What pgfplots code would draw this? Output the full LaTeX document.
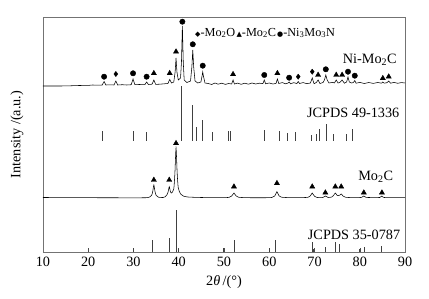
\documentclass[border=0pt]{standalone}
\usepackage{pgfplots}
\pgfplotsset{compat=1.18}
\usepackage{fontspec}
\setmainfont{Liberation Serif}
\newfontfamily\sym{DejaVu Sans}
\begin{document}
\begin{tikzpicture}
\begin{axis}[
  scale only axis, width=362bp, height=235bp,
  xmin=10, xmax=90, ymin=0, ymax=235,
  xtick={10,20,...,90}, ytick=\empty,
  xtick pos=bottom, tick align=inside, major tick length=4bp,
  axis line style={black!55, line width=0.6bp},
  tick style={black!70, line width=0.5bp},
  /pgf/number format/assume math mode=true,
  font=\fontsize{14.3}{17}\selectfont,
  xticklabel style={yshift=-1.5bp},
  xlabel={2\textit{θ}\,/(°)},
  xlabel style={at={(rel axis cs:0.5,0)}, anchor=center, yshift=-30bp},
  clip=false,
  unbounded coords=jump,
]
% Ni-Mo2C pattern
\addplot[black, line width=0.55bp, mark=none] coordinates {
(10,166) (12,166) (14,166) (16,166.2) (18,166.5) (20,166.6) (21,167) (22,166.8)
(23.1,167) (23.5,170.5) (23.9,167) (24.8,167.2) (25.7,167) (26.1,171) (26.5,167)
(27.5,167.3) (28.5,167) (29.5,167.3) (29.9,173) (30.3,167.3) (31.3,167.5) (32.5,167.3)
(32.9,170) (33.3,167.5) (34.1,167.8) (34.5,172) (34.9,167.6) (35.8,167.8) (36.8,168.2)
(37.6,168.5) (38.0,172.5) (38.4,169) (38.9,170) (39.2,180) (39.4,194) (39.6,180)
(39.9,172) (40.4,174) (40.6,190) (40.8,226) (41.0,190) (41.2,172) (41.8,169.5)
(42.6,171) (42.9,185) (43.1,202) (43.3,185) (43.6,171) (44.2,169) (44.9,170)
(45.15,176) (45.3,180) (45.45,176) (45.8,169) (46.5,168.5) (47.3,167.5) (48,169)
(48.7,167.8) (49.5,168.8) (50.3,167.6) (51,168.5) (51.7,168) (52.0,172) (52.3,168)
(53,168.9) (53.8,167.7) (54.6,168.8) (55.4,167.8) (56.2,169) (57,168) (57.8,168.8)
(58.6,168.4) (58.9,172) (59.2,168.2) (60,169) (60.8,168) (61.5,168.6) (61.8,173)
(62.1,168.5) (62.9,169.4) (63.6,168.2) (64.1,168.8) (64.4,170) (64.7,168.2) (65.4,169.3)
(66.1,168.5) (66.4,170.5) (66.7,168.5) (67.5,169.4) (68.3,168.3) (69.1,169) (69.5,174)
(69.9,168.3) (70.4,169.5) (70.8,172) (71.2,168.5) (71.9,169.5) (72.2,172) (72.5,177)
(72.8,172) (73.2,169) (74,169.6) (74.4,169) (74.8,172) (75.2,169) (75.6,169.5)
(76.1,172) (76.6,168.8) (77.1,170) (77.4,175) (77.7,170) (78.2,169) (78.6,169.5)
(78.9,171.5) (79.2,168.8) (80,169.6) (81,168.5) (82,169.5) (83,168.6) (84,169.5)
(84.8,168.8) (85.1,170) (85.4,168.8) (86.0,169.3) (86.4,171) (86.8,168.8) (87.6,169.6)
(88.4,168.7) (89.2,169.4) (90,169)
};
% Mo2C pattern
\addplot[black, line width=0.55bp, mark=none, smooth, tension=0.4] coordinates {
(10,54.5) (20,54.3) (30,54.2) (33,54.3) (33.5,54.8) (34.0,56.6) (34.25,60.5) (34.5,67)
(34.75,60.5) (35.0,56.6) (35.5,54.8) (36.5,54.5) (37.0,55.2) (37.4,57.3) (37.65,60)
(37.9,65.3) (38.15,60.5) (38.4,59) (38.9,63) (39.15,79) (39.4,104) (39.65,79)
(39.9,64) (40.4,58) (41.0,56) (42,55) (45,54.5) (50,54.3) (51.2,54.8) (51.7,56)
(51.95,57.5) (52.2,59) (52.45,57.5) (52.7,56) (53.2,54.8) (55,54.3) (60,54.3)
(60.7,54.8) (61.2,56) (61.45,58) (61.7,60.3) (61.95,58) (62.2,56) (62.7,54.8)
(65,54.3) (68.5,54.6) (69.0,55.8) (69.25,57.3) (69.5,59) (69.75,57.3) (70.0,55.8)
(70.5,54.6) (71.8,54.4) (72.4,56) (73.0,54.5) (73.8,55) (74.2,56.5) (74.6,59)
(74.9,57) (75.2,56.4) (75.5,56.6) (75.9,58) (76.3,56) (76.9,54.7) (79,54.3)
(80.4,54.6) (80.9,56) (81.4,54.6) (84.4,54.5) (84.9,56) (85.4,54.5) (90,54.3)
};
% JCPDS 49-1336 sticks
\addplot[black!75, line width=0.5bp, mark=none] coordinates {
(23.2,111) (23.2,121) (23.2,nan)
(29.9,111) (29.9,121) (29.9,nan)
(32.9,111) (32.9,120) (32.9,nan)
(40.6,111) (40.6,166) (40.6,nan)
(43.0,111) (43.0,147) (43.0,nan)
(43.8,111) (43.8,125) (43.8,nan)
(45.2,111) (45.2,132) (45.2,nan)
(47.4,111) (47.4,120) (47.4,nan)
(50.9,111) (50.9,121) (50.9,nan)
(51.3,111) (51.3,121) (51.3,nan)
(58.9,111) (58.9,122) (58.9,nan)
(62.3,111) (62.3,121) (62.3,nan)
(63.9,111) (63.9,119) (63.9,nan)
(65.8,111) (65.8,120) (65.8,nan)
(69.2,111) (69.2,117) (69.2,nan)
(70.3,111) (70.3,118) (70.3,nan)
(71.1,111) (71.1,123) (71.1,nan)
(72.5,111) (72.5,128) (72.5,nan)
(74.1,111) (74.1,118) (74.1,nan)
(77.0,111) (77.0,118) (77.0,nan)
(78.4,111) (78.4,123)
};
% JCPDS 35-0787 sticks
\addplot[black!75, line width=0.5bp, mark=none] coordinates {
(29.9,0) (29.9,4) (29.9,nan)
(34.2,0) (34.2,12) (34.2,nan)
(37.9,0) (37.9,14) (37.9,nan)
(39.4,0) (39.4,42) (39.4,nan)
(40.0,0) (40.0,3) (40.0,nan)
(49.9,0) (49.9,4) (49.9,nan)
(52.2,0) (52.2,12) (52.2,nan)
(60.1,0) (60.1,4) (60.1,nan)
(61.4,0) (61.4,12) (61.4,nan)
(69.5,0) (69.5,10) (69.5,nan)
(69.8,0) (69.8,3) (69.8,nan)
(72.4,0) (72.4,5) (72.4,nan)
(74.6,0) (74.6,10) (74.6,nan)
(75.4,0) (75.4,8) (75.4,nan)
(79.8,0) (79.8,3) (79.8,nan)
(80.9,0) (80.9,5) (80.9,nan)
(84.8,0) (84.8,6)
};
% markers: Ni3Mo3N circles
\addplot[only marks, mark=*, mark size=2.7bp, black] coordinates {
(23.5,175.3) (29.9,178.7) (32.9,175.3) (40.8,230.3) (43.1,207.7) (45.3,186.3)
(58.9,177) (64.4,174.3) (72.5,182.7) (77.4,180.3) (78.9,176.3)
};
% Mo2O diamonds
\addplot[only marks, mark=diamond*, mark size=2.6bp, black] coordinates {
(26.1,178) (66.4,175.3) (69.5,180.3)
};
% Mo2C triangles (Ni-Mo2C)
\addplot[only marks, mark=triangle*, mark size=3bp, black] coordinates {
(34.5,178.7) (38.0,178.7) (39.4,200.3) (52.0,177.7) (61.8,178.7) (70.8,177)
(74.8,177) (76.1,177) (85.1,173.7) (86.4,175.3)
};
% Mo2C triangles (Mo2C)
\addplot[only marks, mark=triangle*, mark size=3bp, black] coordinates {
(34.5,72) (37.9,72) (39.4,108.7) (52.2,65.3) (61.7,68.7) (69.5,65.3) (72.4,59.3)
(74.6,65.3) (75.9,65.3) (80.9,59.3) (84.9,59.3)
};
\node[anchor=east, inner sep=0pt] at (axis cs:88.2,192) {Ni-Mo\textsubscript{2}C};
\node[anchor=east, inner sep=0pt] at (axis cs:88.8,139) {JCPDS 49-1336};
\node[anchor=east, inner sep=0pt] at (axis cs:87.4,75.3) {Mo\textsubscript{2}C};
\node[anchor=east, inner sep=0pt, fill=white, inner xsep=1pt] at (axis cs:89.2,17) {JCPDS 35-0787};
\node[anchor=west, inner sep=0pt, font=\fontsize{12.3}{15}\selectfont] at (axis cs:43.6,219) {{\sym\fontsize{7}{9}\selectfont ◆}-Mo\textsubscript{2}O\hspace{0.1em}{\sym\fontsize{7}{9}\selectfont ▲}-Mo\textsubscript{2}C\hspace{0.1em}{\sym\fontsize{7}{9}\selectfont ●}-Ni\textsubscript{3}Mo\textsubscript{3}N};
\node[rotate=90, anchor=center] at ([xshift=-26bp]rel axis cs:0,0.5) {Intensity /(a.u.)};
\end{axis}
\path (-43bp,-47bp) rectangle (386bp,252bp);
\end{tikzpicture}
\end{document}
